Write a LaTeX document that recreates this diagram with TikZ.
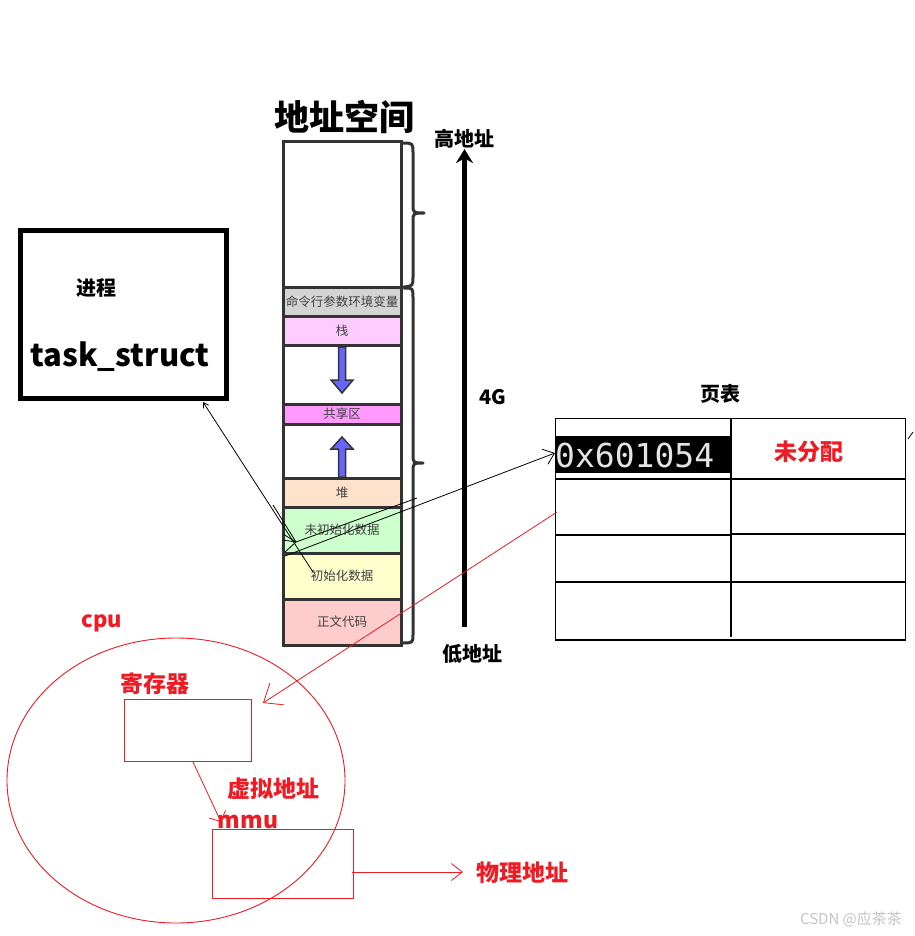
\documentclass[tikz,border=0pt]{standalone}
\usepackage{fontspec}
\setmainfont{Noto Sans CJK SC}
\newfontfamily\monof{DejaVu Sans Mono}
\usetikzlibrary{arrows.meta,shapes.geometric}
\definecolor{myred}{HTML}{ED1C24}
\definecolor{colgray}{HTML}{333333}
\definecolor{segtext}{HTML}{404040}
\definecolor{cmdgray}{HTML}{D4D4D4}
\definecolor{stackpink}{HTML}{FFCCFF}
\definecolor{sharedpink}{HTML}{FF99FF}
\definecolor{heapc}{HTML}{FFE2CC}
\definecolor{bssc}{HTML}{CCFFCC}
\definecolor{datac}{HTML}{FFFFCC}
\definecolor{textc}{HTML}{FFCCCC}
\definecolor{arrowblue}{HTML}{6666FF}
\definecolor{monotext}{HTML}{E4E4E4}
\definecolor{wmgray}{HTML}{C4C4C4}
\newcommand{\fsz}[1]{\fontsize{#1}{#1}\selectfont}
\tikzset{
  seg/.style={draw=colgray, line width=3pt, minimum width=118pt, inner sep=0pt, text=segtext, font=\fsz{12.5}},
  bracestyle/.style={draw=colgray, line width=3pt, line cap=round, line join=round},
  blockarrow/.style={fill=arrowblue, draw=colgray, line width=1.5pt},
  bold/.style={font=\bfseries\fsz{#1}, inner sep=0pt},
  redbold/.style={font=\bfseries\fsz{#1}, text=myred, inner sep=0pt},
  thin/.style={draw=black, line width=0.8pt},
  redthin/.style={draw=myred, line width=0.8pt},
  tablebox/.style={draw=black, line width=1.3pt, minimum width=350pt, minimum height=221.5pt, inner sep=0pt},
  redbox/.style={draw=myred, line width=0.9pt, inner sep=0pt}
}
\begin{document}
\begin{tikzpicture}[x=1pt,y=-1pt]
\useasboundingbox[fill=white] (0,0) rectangle (914,936);

% title
\node[bold=35] (title) at (344,117) {地址空间};

% memory column segments
\node[seg, fill=white, minimum height=145pt] (top) at (342,214.5) {};
\node[seg, fill=cmdgray, minimum height=29pt] (cmd) at (342,301.5) {命令行参数环境变量};
\node[seg, fill=stackpink, minimum height=29pt] (stack) at (342,330.5) {栈};
\node[seg, fill=white, minimum height=59pt] (gap1) at (342,374.5) {};
\node[seg, fill=sharedpink, minimum height=20pt] (shared) at (342,414) {共享区};
\node[seg, fill=white, minimum height=54pt] (gap2) at (342,451) {};
\node[seg, fill=heapc, minimum height=29pt] (heap) at (342,492.5) {堆};
\node[seg, fill=bssc, minimum height=46pt] (bss) at (342,530) {未初始化数据};
\node[seg, fill=datac, minimum height=46pt] (data) at (342,576) {初始化数据};
\node[seg, fill=textc, minimum height=46pt] (code) at (342,622) {正文代码};

% block arrows
\path[blockarrow] (338.5,347) -- (345.5,347) -- (345.5,380) -- (353,380) -- (342,393) -- (331,380) -- (338.5,380) -- cycle;
\path[blockarrow] (338.5,477) -- (338.5,449) -- (331,449) -- (342,437) -- (353,449) -- (345.5,449) -- (345.5,477) -- cycle;

% braces
\draw[bracestyle] (402,143) .. controls (413,143) .. (413,153) -- (413,204) .. controls (413,213) .. (424,213) .. controls (413,213) .. (413,222) -- (413,276) .. controls (413,286) .. (404,287);
\draw[bracestyle] (404,288) .. controls (413,288) .. (413,298) -- (413,454) .. controls (413,463) .. (423,463) .. controls (413,463) .. (413,472) -- (413,634) .. controls (413,643) .. (402,643);

% big address arrow
\coordinate (lowend) at (464.5,627);
\coordinate (highend) at (464.5,149);
\draw[line width=5.5pt, -{Stealth[length=14pt,width=17pt]}] (lowend) -- (highend);
\node[bold=20] (high) at (464,139) {高地址};
\node[bold=20] (low) at (472,654) {低地址};
\node[bold=20] (fourg) at (493,397) {4G};

% process box
\node[draw=black, line width=5pt, minimum width=206pt, minimum height=168pt, inner sep=0pt] (task) at (123.5,314.5) {};
\node[bold=20] (proc) at (96,288) {进程};
\node[bold=31] (ts) at (120,357) {task\_struct};

% page table
\node[bold=20] (pttitle) at (720,394) {页表};
\node[tablebox] (pt) at (730.5,529.25) {};
\draw[line width=1.3pt] (731,418.5) -- (731,637);
\draw[line width=1.3pt] (555.5,479) -- (905.5,479);
\draw[line width=1.3pt] (555.5,535) -- (731,535);
\draw[line width=1.3pt] (731,534) -- (905.5,534);
\draw[line width=1.3pt] (555.5,582) -- (905.5,582);
\node[fill=black, minimum width=176pt, minimum height=37pt, inner sep=0pt] (addr) at (644,454.5) {};
\node[anchor=west, inner sep=0pt, font=\monof\fsz{33}, text=monotext] (addrtxt) at (555,455) {0x601054};
\node[redbold=23] (unalloc) at (809,452) {未分配};
\coordinate (strayA) at (908,439);
\coordinate (strayB) at (913,432);
\draw[thin] (strayA) -- (strayB);

% black connectors
\coordinate (l1s) at (313,572);
\coordinate (l1e) at (203,402);
\draw[thin, -{Straight Barb[length=5pt,width=6pt]}] (l1s) -- (l1e);
\coordinate (mx) at (296,542);
\draw[thin] (273,505) -- (mx);
\draw[thin] (283,534) -- (mx);
\draw[thin] (283,540) -- (mx);
\draw[thin] (285,552) -- (mx);
\coordinate (aend) at (417,498);
\draw[thin] (mx) -- (aend);
\coordinate (l3s) at (285,556);
\coordinate (l3e) at (555,453);
\draw[thin, -{Straight Barb[length=10pt,width=16pt]}] (l3s) -- (l3e);

% cpu
\node[draw=myred, line width=0.9pt, ellipse, minimum width=338pt, minimum height=285pt, inner sep=0pt] (cpu) at (176,780.5) {};
\node[redbold=22] (cpulbl) at (102,623) {cpu};
\node[redbold=23] (reglbl) at (155,684) {寄存器};
\node[redbox, minimum width=127pt, minimum height=62pt] (reg) at (187.5,730) {};
\node[redbold=23] (vlbl) at (273,789) {虚拟地址};
\node[redbold=23] (mmulbl) at (248,822) {mmu};
\node[redbox, minimum width=141pt, minimum height=69pt] (mmu) at (282.5,863.5) {};
\node[redbold=23] (phys) at (522,873) {物理地址};

% red connectors
\coordinate (rs) at (557,512);
\coordinate (re) at (263,703);
\draw[redthin, -{Straight Barb[length=16pt,width=26pt]}] (rs) -- (re);
\coordinate (vs) at (193,762);
\coordinate (ve) at (221,822);
\draw[redthin, -{Straight Barb[length=8pt,width=18pt]}] (vs) -- (ve);
\coordinate (ps) at (352,872);
\coordinate (pe) at (463,872);
\draw[redthin, -{Straight Barb[length=11pt,width=17pt]}] (ps) -- (pe);

% watermark
\node[font=\fsz{15}, text=wmgray, inner sep=0pt] (wm) at (851,919) {CSDN @应茶茶};
\end{tikzpicture}
\end{document}
